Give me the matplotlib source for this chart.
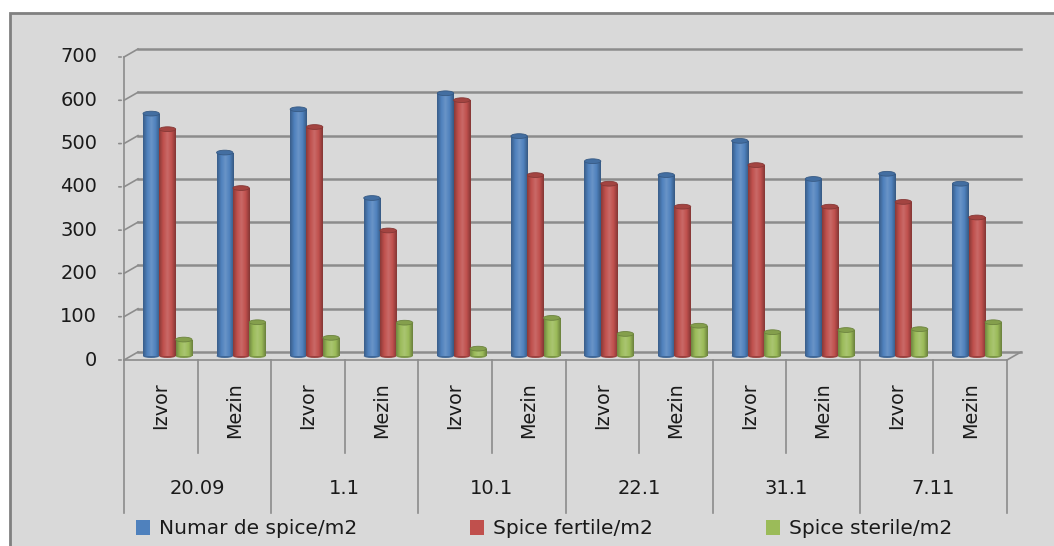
import numpy as np
import matplotlib
matplotlib.use("Agg")
import matplotlib.pyplot as plt
import matplotlib.transforms as mtransforms
from matplotlib.colors import LinearSegmentedColormap, to_rgb
from matplotlib.patches import Rectangle, Ellipse, Patch

dates = ["20.09", "1.1", "10.1", "22.1", "31.1", "7.11"]
sites = ["Izvor", "Mezin"]
series_names = ["Numar de spice/m2", "Spice fertile/m2", "Spice sterile/m2"]

total = [560, 470, 570, 365, 607, 508, 450, 418, 497, 409, 421, 398]
fertile = [524, 388, 529, 290, 591, 418, 398, 345, 441, 345, 356, 320]
sterile = [38, 78, 42, 77, 17, 88, 51, 70, 55, 60, 62, 78]

colors = ["#4F81BD", "#C0504D", "#9BBB59"]

W, H, DPI = 1054, 546, 100
fig = plt.figure(figsize=(W / DPI, H / DPI), dpi=DPI)
fig.patch.set_facecolor("white")

# chart area (grey panel with top/left border)
fig.patches.append(Rectangle((10 / W, -0.05), 1.1, 1 - 13 / H + 0.05,
                             transform=fig.transFigure, facecolor="#d9d9d9",
                             edgecolor="#808080", linewidth=2, zorder=-5))

left, right, bottom, top = 124, 1007, 360, 57
ax = fig.add_axes([left / W, 1 - bottom / H, (right - left) / W, (bottom - top) / H])
ax.set_zorder(1)
ax.set_facecolor("none")
ax.set_xlim(0, 12)
ax.set_ylim(0, 700)
for s in ax.spines.values():
    s.set_visible(False)
ax.set_xticks([])
ax.set_yticks([])

grid_c = "#8c8c8c"
lab_c = "#1a1a1a"
back = ax.transData + mtransforms.ScaledTranslation(14 / DPI, 8 / DPI, fig.dpi_scale_trans)
mid = ax.transData + mtransforms.ScaledTranslation(7 / DPI, 4 / DPI, fig.dpi_scale_trans)

yt = np.arange(0, 701, 100)
for v in yt:
    # back wall gridline
    ax.plot([0, 12], [v, v], color=grid_c, lw=1.8, transform=back, clip_on=False, zorder=1)
    # small tick to the left of the value axis
    ax.annotate("", xy=(0, v), xytext=(-8, 0), textcoords="offset pixels",
                xycoords="data", arrowprops=dict(arrowstyle="-", color=grid_c, lw=1.2))
    ax.annotate(str(v), xy=(0, v), xytext=(-27, 0), textcoords="offset pixels",
                ha="right", va="center", fontsize=14, color=lab_c)

# side connectors from each front tick to the back wall
for v in yt:
    x0, y0 = ax.transData.transform((0, v))
    fig.add_artist(plt.Line2D([x0 / W, (x0 + 14) / W], [y0 / H, (y0 + 8) / H],
                              transform=fig.transFigure, color=grid_c, lw=1.2))

# floor front edge and right side of floor
ax.plot([0, 12], [0, 0], color=grid_c, lw=1.2, clip_on=False, zorder=1)
x1, y1 = ax.transData.transform((12, 0))
fig.add_artist(plt.Line2D([x1 / W, (x1 + 14) / W], [y1 / H, (y1 + 8) / H],
                          transform=fig.transFigure, color=grid_c, lw=1.2))
# front value axis
ax.plot([0, 0], [0, 700], color=grid_c, lw=1.2, clip_on=False)


def cyl_cmap(c):
    r = np.array(to_rgb(c))
    dark = r * 0.72
    light = np.clip(r + (1 - r) * 0.15, 0, 1)
    return LinearSegmentedColormap.from_list("cyl", [dark, r, light, r, dark * 0.95])


bw = 0.222
grad = np.linspace(0, 1, 64).reshape(1, -1)
for k, vals in enumerate([total, fertile, sterile]):
    cmap = cyl_cmap(colors[k])
    base = np.array(to_rgb(colors[k]))
    for i, v in enumerate(vals):
        x0 = i + 0.163 + k * bw
        rect = Rectangle((x0, 0), bw, v, transform=mid, facecolor="none", edgecolor="none")
        ax.add_patch(rect)
        im = ax.imshow(grad, cmap=cmap, extent=[x0, x0 + bw, 0, v], aspect="auto",
                       interpolation="bilinear", zorder=3 + k * 0.01)
        im.set_transform(mid)
        im.set_clip_path(rect)
        ax.add_patch(Ellipse((x0 + bw / 2, v), bw, 11, transform=mid,
                             facecolor=base * 0.85, edgecolor=base * 0.7, lw=0.6,
                             zorder=3.5))
        ax.add_patch(Ellipse((x0 + bw / 2, 0), bw, 9, transform=mid,
                             facecolor=base * 0.8, edgecolor="none", zorder=2.9))

ax.set_xlim(0, 12)
ax.set_ylim(0, 700)

# category axis: two levels
axh = bottom - top
for i in range(12):
    ax.annotate(sites[i % 2], xy=(i + 0.5, 0), xycoords=("data", "axes fraction"),
                xytext=(0, -(382 - bottom)), textcoords="offset pixels",
                rotation=90, rotation_mode="anchor", ha="right", va="center",
                fontsize=13.8, color=lab_c)
for j, d in enumerate(dates):
    ax.annotate(d, xy=(2 * j + 1, 0), xycoords=("data", "axes fraction"),
                xytext=(0, -(489 - bottom)), textcoords="offset pixels",
                ha="center", va="center", fontsize=14, color=lab_c)
for i in range(13):
    depth = 513 if i % 2 == 0 else 453
    ax.plot([i, i], [0, -(depth - bottom) / axh], color=grid_c, lw=1.2,
            transform=ax.get_xaxis_transform(), clip_on=False)

handles = [Patch(facecolor=c, edgecolor="none") for c in colors]
fig.legend(handles, series_names, loc="center left", bbox_to_anchor=(118 / W, 1 - 529 / H),
           ncol=3, frameon=False, fontsize=14.5, handlelength=0.7, handleheight=0.7,
           handletextpad=0.45, columnspacing=5.6, labelcolor=lab_c)

fig.savefig("out.png", dpi=DPI, facecolor=fig.get_facecolor())
